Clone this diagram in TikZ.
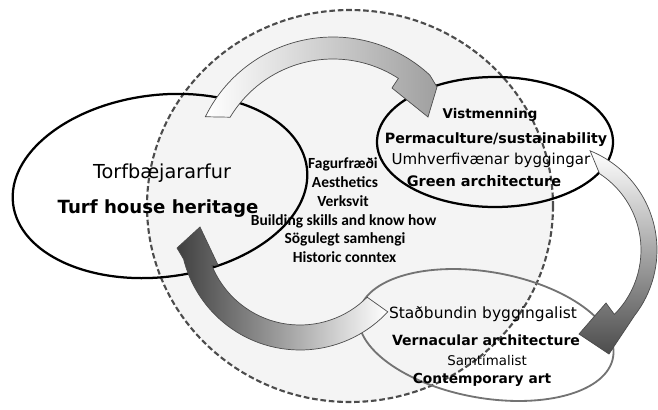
\documentclass[tikz,border=0pt]{standalone}
\usepackage{fontspec}
\setmainfont{DejaVu Sans}
\newfontfamily\midfont{Carlito}
\usetikzlibrary{calc}
\begin{document}
\begin{tikzpicture}[x=0.025cm, y=-0.025cm,
  ellline/.style={line width=1.6pt, draw=black},
  arrowshape/.style={draw=black!70, line width=0.5pt},
  txt/.style={anchor=base, inner sep=0pt},
  midtxt/.style={txt, font=\midfont\bfseries\fontsize{11}{12}\selectfont},
]
\useasboundingbox (0,0) rectangle (658,409);
% dashed circle
\draw[draw=black!70, line width=1.5pt, dash pattern=on 4pt off 2pt, fill=gray!9] (350,206) ellipse [x radius=203, y radius=196];
% ellipses
\draw[ellline, rotate around={7:(160,186)}] (160,186) ellipse [x radius=148, y radius=91];
\draw[ellline] (495,142) ellipse [x radius=118, y radius=65];
\draw[line width=1.3pt, draw=black!55, rotate around={-10:(486,335)}] (486,335) ellipse [x radius=129, y radius=63];
% arrow centres
\coordinate (C1) at (333,179);
\coordinate (C2) at (550,250);
\coordinate (C3) at (300,230);
% top arrow
\draw[arrowshape, left color=white, right color=gray!75]
  ($(C1)+(-154:142)$) arc[start angle=-154, end angle=-47, radius=142]
  -- (437,87) -- (428,117) -- (392,88)
  -- ($(C1)+(-57:120)$) arc[start angle=-57, end angle=-149, radius=120] -- cycle;
% right arrow
\draw[arrowshape, top color=white, bottom color=black!70]
  ($(C2)+(-68:107)$) arc[start angle=-68, end angle=38, radius=107]
  -- (609,354) -- (579,334) -- (606,303)
  -- ($(C2)+(45:91)$) arc[start angle=45, end angle=-57, radius=91] -- cycle;
% bottom arrow
\draw[arrowshape, left color=black!75, right color=white]
  ($(C3)+(43:120)$) arc[start angle=43, end angle=166, radius=120]
  -- (177,248) -- (200,227) -- (218,265)
  -- ($(C3)+(158:95)$) arc[start angle=158, end angle=45, radius=95] -- cycle;
% texts
\node[txt, font=\fontsize{13.7}{16}\selectfont] (t1) at (162,178) {Torfbæjararfur};
\node[txt, font=\bfseries\fontsize{12.9}{15}\selectfont] (t2) at (158,213) {Turf house heritage};
\node[txt, font=\bfseries\fontsize{9.5}{11}\selectfont] (r1) at (490,118) {Vistmenning};
\node[txt, font=\bfseries\fontsize{10.1}{12}\selectfont] (r2) at (496,143) {Permaculture/sustainability};
\node[txt, font=\fontsize{10.7}{12}\selectfont] (r3) at (491,164) {Umhverfivænar byggingar};
\node[txt, font=\bfseries\fontsize{10.3}{12}\selectfont] (r4) at (484,186) {Green architecture};
\node[txt, font=\fontsize{11}{13}\selectfont] (b1) at (483,318) {Staðbundin byggingalist};
\node[txt, font=\bfseries\fontsize{10}{12}\selectfont] (b2) at (486,345) {Vernacular architecture};
\node[txt, font=\fontsize{9.5}{11}\selectfont] (b3) at (487,365) {Samtímalist};
\node[txt, font=\bfseries\fontsize{9.8}{11}\selectfont] (b4) at (482,383) {Contemporary art};
\node[midtxt] (m1) at (343,168) {Fagurfræði};
\node[midtxt] (m2) at (345,187) {Aesthetics};
\node[midtxt] (m3) at (343,206) {Verksvit};
\node[midtxt] (m4) at (343.5,225) {Building skills and know how};
\node[midtxt] (m5) at (345,243) {Sögulegt samhengi};
\node[midtxt] (m6) at (344.5,262) {Historic conntex};
\end{tikzpicture}
\end{document}
